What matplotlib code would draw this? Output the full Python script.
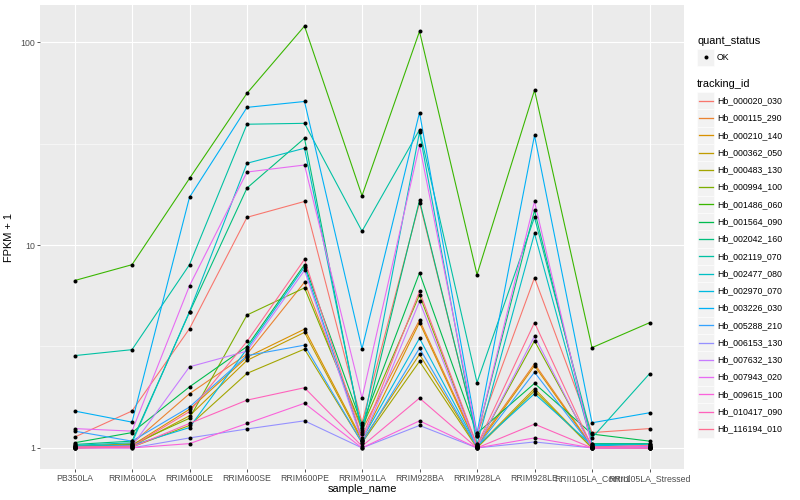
import numpy as np
import matplotlib
matplotlib.use('Agg')
import matplotlib.pyplot as plt
from matplotlib.patches import Rectangle

plt.rcParams['font.family'] = ['Liberation Sans', 'DejaVu Sans']

# x categories
sample_names = ['PB350LA', 'RRIM600LA', 'RRIM600LE', 'RRIM600SE', 'RRIM600PE',
                'RRIM901LA', 'RRIM928BA', 'RRIM928LA', 'RRIM928LE',
                'RRII105LA_Control', 'RRII105LA_Stressed']

# FPKM + 1 per transcript, in sample order
hb_000020_030 = [1.13, 1.52, 3.87, 13.7, 16.4, 1.33, 16.2, 1.16, 6.9, 1.19, 1.245]
hb_000115_290 = [1.02, 1.05, 1.85, 2.9, 6.56, 1.22, 4.27, 1.04, 2.6, 1.02, 1.01]
hb_000210_140 = [1.01, 1.03, 1.55, 2.8, 3.85, 1.1, 4.15, 1.02, 2.54, 1.01, 1.0]
hb_000362_050 = [1.0, 1.02, 1.44, 2.7, 3.71, 1.08, 2.89, 1.01, 1.96, 1.0, 1.0]
hb_000483_130 = [1.0, 1.01, 1.29, 2.33, 3.07, 1.06, 2.67, 1.0, 1.91, 1.0, 1.0]
hb_000994_100 = [1.02, 1.04, 1.40, 4.52, 6.15, 1.26, 5.67, 1.02, 3.37, 1.02, 1.01]
hb_001486_060 = [6.68, 8.0, 21.3, 56, 120, 17.5, 113, 7.15, 58, 3.12, 4.14]
hb_001564_090 = [1.06, 1.19, 2.0, 3.16, 8.0, 1.3, 7.29, 1.18, 2.08, 1.17, 1.08]
hb_002042_160 = [1.04, 1.08, 4.66, 19.1, 33.6, 1.17, 16.6, 1.15, 14.8, 1.05, 1.05]
hb_002119_070 = [2.85, 3.05, 8.0, 39.4, 39.8, 11.7, 37, 2.1, 13.7, 1.12, 2.32]
hb_002477_080 = [1.03, 1.06, 4.7, 25.3, 30, 1.2, 36, 1.04, 11.4, 1.04, 1.04]
hb_002970_070 = [1.02, 1.03, 1.26, 3.08, 7.8, 1.1, 3.47, 1.02, 1.85, 1.03, 1.02]
hb_003226_030 = [1.52, 1.34, 17.2, 47.7, 51, 3.08, 45, 1.18, 34.7, 1.33, 1.49]
hb_005288_210 = [1.21, 1.08, 1.59, 2.85, 3.21, 1.06, 3.1, 1.01, 2.36, 1.01, 1.01]
hb_006153_130 = [1.0, 1.0, 1.12, 1.24, 1.36, 1.0, 1.29, 1.0, 1.07, 1.0, 1.0]
hb_007632_130 = [1.01, 1.02, 2.51, 3.0, 7.5, 1.08, 5.27, 1.01, 3.55, 1.0, 1.0]
hb_007943_020 = [1.245, 1.21, 6.3, 22.9, 24.8, 1.76, 31, 1.15, 16.4, 1.01, 1.02]
hb_009615_100 = [1.0, 1.0, 1.05, 1.32, 1.66, 1.0, 1.36, 1.0, 1.12, 1.0, 1.0]
hb_010417_090 = [1.0, 1.01, 1.32, 1.72, 1.98, 1.02, 1.76, 1.0, 1.31, 1.0, 1.0]
hb_116194_010 = [1.01, 1.02, 1.51, 3.35, 8.5, 1.12, 5.91, 1.03, 4.15, 1.01, 1.03]

tracking_ids = ['Hb_000020_030', 'Hb_000115_290', 'Hb_000210_140', 'Hb_000362_050',
                'Hb_000483_130', 'Hb_000994_100', 'Hb_001486_060', 'Hb_001564_090',
                'Hb_002042_160', 'Hb_002119_070', 'Hb_002477_080', 'Hb_002970_070',
                'Hb_003226_030', 'Hb_005288_210', 'Hb_006153_130', 'Hb_007632_130',
                'Hb_007943_020', 'Hb_009615_100', 'Hb_010417_090', 'Hb_116194_010']
series = [hb_000020_030, hb_000115_290, hb_000210_140, hb_000362_050, hb_000483_130,
          hb_000994_100, hb_001486_060, hb_001564_090, hb_002042_160, hb_002119_070,
          hb_002477_080, hb_002970_070, hb_003226_030, hb_005288_210, hb_006153_130,
          hb_007632_130, hb_007943_020, hb_009615_100, hb_010417_090, hb_116194_010]

# ggplot default hue palette for 20 groups
colors = ['#F8766D', '#EA8331', '#D89000', '#C09B00', '#A3A500', '#7CAE00', '#39B600',
          '#00BB4E', '#00BF7D', '#00C1A3', '#00BFC4', '#00BAE0', '#00B0F6', '#35A2FF',
          '#9590FF', '#C77CFF', '#E76BF3', '#FA62DB', '#FF62BC', '#FF6C91']

DPI = 72
fig = plt.figure(figsize=(800 / DPI, 500 / DPI), dpi=DPI)
ax = fig.add_axes([40 / 800, 1 - 469 / 500, (684 - 40) / 800, (469 - 5) / 500])
ax.set_facecolor('#EBEBEB')

x = np.arange(1, len(sample_names) + 1)
for vals, col in zip(series, colors):
    ax.plot(x, vals, color=col, lw=1.1, zorder=3)
for vals in series:
    ax.plot(x, vals, 'o', color='black', ms=4, mec='black', mew=0, zorder=4)

ax.set_yscale('log')
allv = np.log10(np.concatenate([np.array(v) for v in series]))
lo, hi = allv.min(), allv.max()
pad = 0.05 * (hi - lo)
ax.set_ylim(10 ** (lo - pad), 10 ** (hi + pad))
ax.set_xlim(0.4, len(sample_names) + 0.6)

ax.set_yticks([1, 10, 100])
ax.set_yticklabels(['1', '10', '100'])
ax.set_yticks([10 ** 0.5, 10 ** 1.5], minor=True)
ax.yaxis.set_minor_formatter(matplotlib.ticker.NullFormatter())
ax.set_xticks(x)
ax.set_xticklabels(sample_names)

ax.grid(which='major', color='white', lw=1.1)
ax.grid(which='minor', axis='y', color='white', lw=0.55)
ax.set_axisbelow(True)
for s in ax.spines.values():
    s.set_visible(False)
ax.tick_params(which='major', length=2.75, width=0.8, color='#333333',
               labelcolor='#4D4D4D', labelsize=8.8, pad=2.2)
ax.tick_params(which='minor', length=0)

ax.set_xlabel('sample_name', fontsize=11, labelpad=1)
ax.set_ylabel('FPKM + 1', fontsize=11, labelpad=6)

# legend drawn by hand in pixel coordinates, ggplot style
lax = fig.add_axes([0, 0, 1, 1])
lax.set_xlim(0, 800)
lax.set_ylim(500, 0)
lax.axis('off')
lax.patch.set_visible(False)

lx = 697
lax.text(lx, 41, 'quant_status', fontsize=11, va='center', ha='left')
lax.add_patch(Rectangle((lx, 48.5), 17, 17, facecolor='#F2F2F2', edgecolor='white',
                        lw=0.5, zorder=1))
lax.plot([lx + 8.5], [57], 'o', color='black', ms=4, mew=0, zorder=3)
lax.text(lx + 20, 57, 'OK', fontsize=8.8, va='center', ha='left')

lax.text(lx, 84, 'tracking_id', fontsize=11, va='center', ha='left')
step = 17.28
for i, (name, col) in enumerate(zip(tracking_ids, colors)):
    cy = 100.7 + i * step
    lax.add_patch(Rectangle((lx, cy - step / 2), 17, step, facecolor='#F2F2F2',
                            edgecolor='white', lw=0.5, zorder=1))
    lax.plot([lx + 1.5, lx + 15.5], [cy, cy], color=col, lw=1.3, zorder=3)
    lax.text(lx + 20, cy, name, fontsize=8.8, va='center', ha='left')

fig.savefig('out.png', dpi=DPI)
